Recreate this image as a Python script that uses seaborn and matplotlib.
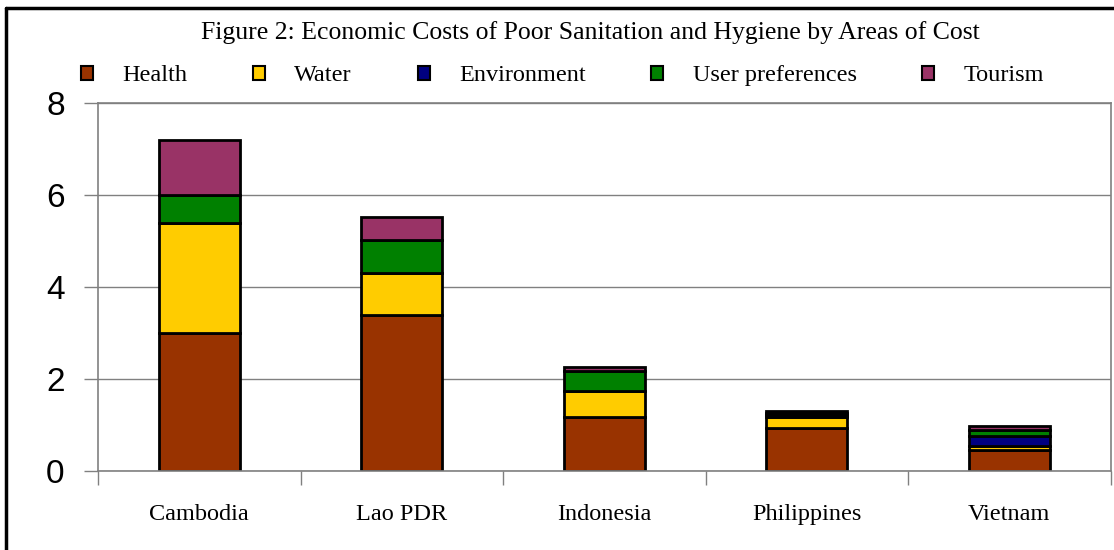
import numpy as np
import matplotlib
matplotlib.use("Agg")
import matplotlib.pyplot as plt
import seaborn as sns
from matplotlib.lines import Line2D
from matplotlib.patches import Patch

# data
countries = ["Cambodia", "Lao PDR", "Indonesia", "Philippines", "Vietnam"]
series_names = ["Health", "Water", "Environment", "User preferences", "Tourism"]
health = [3.0, 3.4, 1.18, 0.93, 0.46]
water = [2.4, 0.9, 0.55, 0.25, 0.09]
environment = [0.0, 0.0, 0.0, 0.03, 0.22]
user_pref = [0.6, 0.72, 0.44, 0.05, 0.13]
tourism = [1.2, 0.5, 0.09, 0.04, 0.07]
colors = ["#993300", "#FFCC00", "#000080", "#008000", "#993366"]

sns.set_style("white")
plt.rcParams['font.family'] = ['Liberation Serif', 'DejaVu Serif']
plt.rcParams['text.color'] = 'black'
plt.rcParams['xtick.color'] = 'black'
plt.rcParams['ytick.color'] = 'black'

fig = plt.figure(figsize=(11.14, 5.5), dpi=100)
ax = fig.add_axes([0.088, 0.1436, 0.909, 0.669])

bottom = np.zeros(len(countries))
for name, vals, col in zip(series_names, [health, water, environment, user_pref, tourism], colors):
    sns.barplot(x=countries, y=vals, bottom=bottom, color=col, saturation=1,
                width=0.4, edgecolor="black", linewidth=2, errorbar=None, ax=ax)
    bottom = bottom + np.array(vals)

ax.set_ylim(0, 8)
ax.set_xlim(-0.5, 4.5)
ax.set_yticks([0, 2, 4, 6, 8])
ax.yaxis.grid(True, color="#808080", linewidth=1)
ax.set_axisbelow(True)
for sp in ax.spines.values():
    sp.set_color("#808080")
    sp.set_linewidth(1.2)

for lab in ax.get_yticklabels():
    lab.set_family("Liberation Sans")
    lab.set_fontsize(24)
ax.tick_params(axis="y", left=True, length=10, width=1, color="#808080", labelcolor="black", pad=14)
ax.tick_params(axis="x", bottom=False, labelsize=17.5, labelcolor="black", pad=20)

# x boundary tick marks between categories
ax.set_xticks(np.arange(-0.5, 5, 1), minor=True)
ax.tick_params(axis="x", which="minor", bottom=True, length=10, width=1, color="#808080")

fig.text(0.53, 0.94, "Figure 2: Economic Costs of Poor Sanitation and Hygiene by Areas of Cost",
         ha="center", va="center", fontsize=18.5, color="black")

handles = [Patch(facecolor=c, edgecolor="black", linewidth=1.5) for c in colors]
fig.legend(handles, series_names, loc="center", bbox_to_anchor=(0.505, 0.862), ncol=5,
           frameon=False, fontsize=17.5, handlelength=0.5, handleheight=0.5,
           handletextpad=1.2, columnspacing=2.7, labelcolor="black")

# outer frame: only top and left edges are visible in the reference
fig.add_artist(Line2D([0.005, 1.0], [0.986, 0.986], transform=fig.transFigure,
                      color="black", linewidth=2.5))
fig.add_artist(Line2D([0.005, 0.005], [0.0, 0.986], transform=fig.transFigure,
                      color="black", linewidth=2.5))

fig.savefig("out.png", dpi=100)
